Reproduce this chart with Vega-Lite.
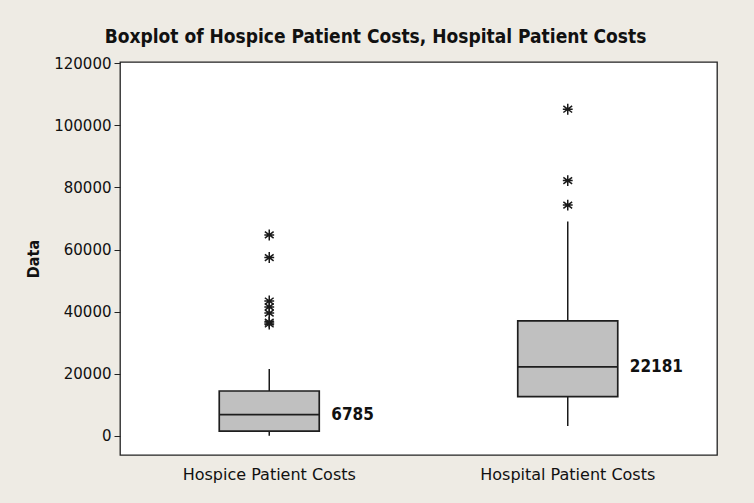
{
  "$schema": "https://vega.github.io/schema/vega-lite/v6.json",
  "autosize": "none",
  "width": 597,
  "height": 393,
  "padding": {"left": 120, "top": 62, "right": 37, "bottom": 48},
  "background": "#eeebe4",
  "config": {
    "view": {"stroke": "#222222", "strokeWidth": 1.3, "fill": "white"},
    "font": "DejaVu Sans"
  },
  "title": {
    "text": "Boxplot of Hospice Patient Costs, Hospital Patient Costs",
    "font": "DejaVu Sans Condensed",
    "fontSize": 19,
    "fontWeight": "bold",
    "color": "#111111",
    "anchor": "middle",
    "dx": -43,
    "offset": 9
  },
  "datasets": {
    "boxes": [
      {"group": "Hospice Patient Costs", "lower": 0, "q1": 1500, "median": 6785, "q3": 14400, "upper": 21500, "label": "6785"},
      {"group": "Hospital Patient Costs", "lower": 3100, "q1": 12600, "median": 22181, "q3": 37000, "upper": 69000, "label": "22181"}
    ],
    "outliers": [
      {"group": "Hospice Patient Costs", "value": 64700},
      {"group": "Hospice Patient Costs", "value": 57400},
      {"group": "Hospice Patient Costs", "value": 43400},
      {"group": "Hospice Patient Costs", "value": 41500},
      {"group": "Hospice Patient Costs", "value": 39500},
      {"group": "Hospice Patient Costs", "value": 36600},
      {"group": "Hospice Patient Costs", "value": 36000},
      {"group": "Hospital Patient Costs", "value": 105200},
      {"group": "Hospital Patient Costs", "value": 82200},
      {"group": "Hospital Patient Costs", "value": 74300}
    ]
  },
  "encoding": {
    "x": {
      "field": "group",
      "type": "nominal",
      "scale": {"type": "band", "paddingInner": 0, "paddingOuter": 0},
      "axis": {
        "title": null,
        "labelAngle": 0,
        "labelFont": "DejaVu Sans",
        "labelFontSize": 16,
        "labelColor": "#111111",
        "labelPadding": 11,
        "domain": false,
        "ticks": false
      }
    }
  },
  "layer": [
    {
      "data": {"name": "boxes"},
      "mark": {"type": "rule", "color": "#1a1a1a", "strokeWidth": 1.5},
      "encoding": {
        "y": {
          "field": "lower",
          "type": "quantitative",
          "scale": {"domain": [-6220, 120420], "nice": false, "zero": false},
          "axis": {
            "title": "Data",
            "titleFont": "DejaVu Sans Condensed",
            "titleFontSize": 16,
            "titleFontWeight": "bold",
            "titleColor": "#111111",
            "titlePadding": 12,
            "values": [0, 20000, 40000, 60000, 80000, 100000, 120000],
            "format": "d",
            "labelFont": "DejaVu Sans",
            "labelFontSize": 15,
            "labelColor": "#111111",
            "labelPadding": 3,
            "tickSize": 6,
            "tickColor": "#222222",
            "domain": false,
            "grid": false
          }
        },
        "y2": {"field": "q1"}
      }
    },
    {
      "data": {"name": "boxes"},
      "mark": {"type": "rule", "color": "#1a1a1a", "strokeWidth": 1.5},
      "encoding": {
        "y": {"field": "q3", "type": "quantitative"},
        "y2": {"field": "upper"}
      }
    },
    {
      "data": {"name": "boxes"},
      "mark": {"type": "bar", "fill": "#c0c0c0", "stroke": "#1e1e1e", "strokeWidth": 1.7, "width": 100},
      "encoding": {
        "y": {"field": "q1", "type": "quantitative"},
        "y2": {"field": "q3"}
      }
    },
    {
      "data": {"name": "boxes"},
      "mark": {"type": "tick", "color": "#1e1e1e", "opacity": 1, "size": 100, "thickness": 1.8, "orient": "horizontal"},
      "encoding": {
        "y": {"field": "median", "type": "quantitative"}
      }
    },
    {
      "data": {"name": "boxes"},
      "mark": {"type": "text", "align": "left", "baseline": "middle", "dx": 62, "font": "DejaVu Sans Condensed", "fontSize": 17, "fontWeight": "bold", "color": "#111111"},
      "encoding": {
        "y": {"field": "median", "type": "quantitative"},
        "text": {"field": "label"}
      }
    },
    {
      "data": {"name": "outliers"},
      "mark": {
        "type": "point",
        "shape": "M0,-1L0,1M-0.8,-0.6L0.8,0.6M-0.8,0.6L0.8,-0.6M-0.9,0L0.9,0",
        "filled": false,
        "stroke": "#1a1a1a",
        "strokeWidth": 1.5,
        "size": 120,
        "opacity": 1
      },
      "encoding": {
        "y": {"field": "value", "type": "quantitative"}
      }
    }
  ]
}
